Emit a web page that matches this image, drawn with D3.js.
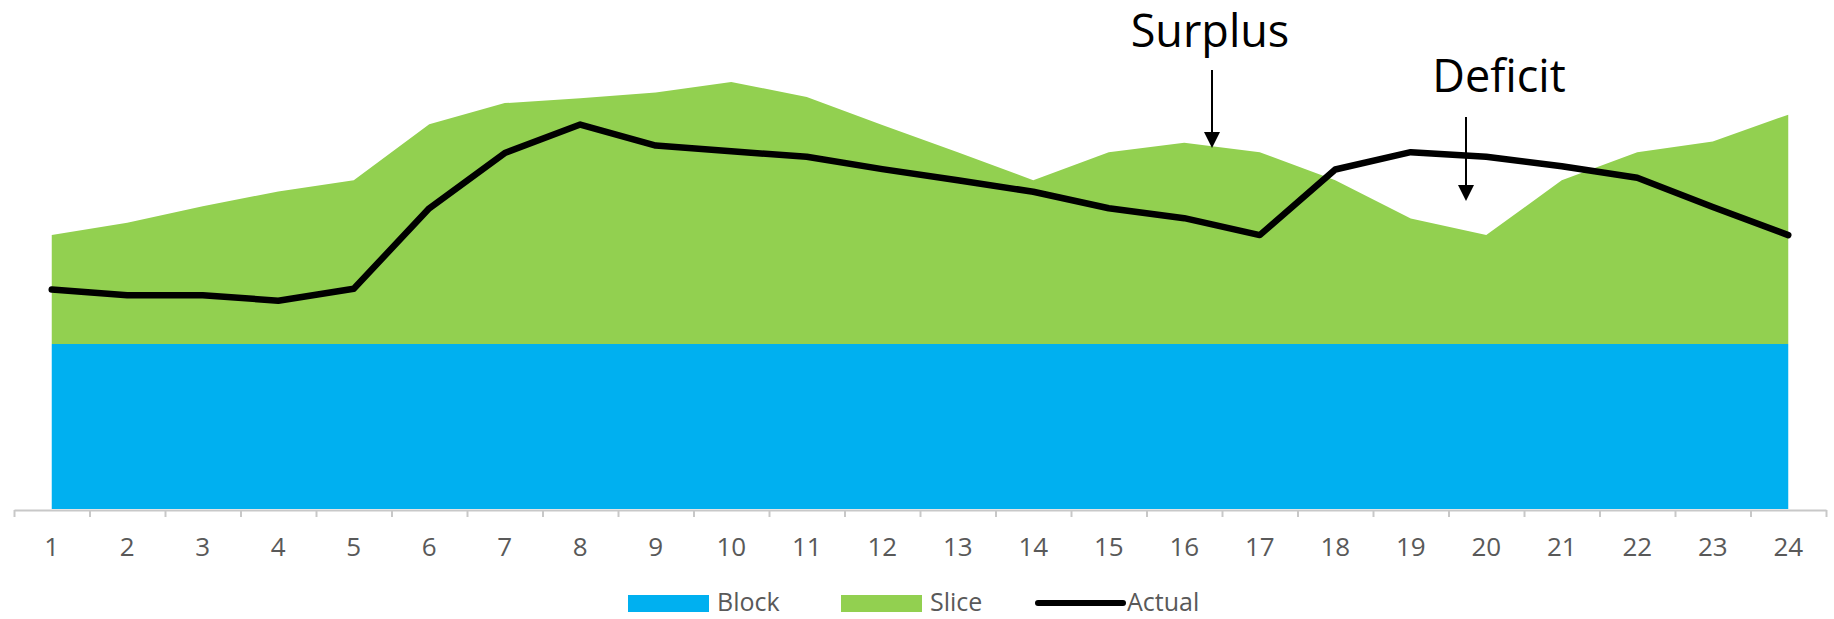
<!DOCTYPE html>
<html>
<head>
<meta charset="utf-8">
<script src="https://cdn.jsdelivr.net/npm/d3@7"></script>
<style>
  html, body { margin: 0; padding: 0; background: #ffffff; }
  svg { display: block; }
  text { font-family: "Open Sans", "Noto Sans", sans-serif; }
</style>
</head>
<body>
<svg id="chart" width="1834" height="619"></svg>
<script>
// Hours of the day
const hours = ["1","2","3","4","5","6","7","8","9","10","11","12","13","14","15","16","17","18","19","20","21","22","23","24"];
// Base load (block) per hour
const block = [40,40,40,40,40,40,40,40,40,40,40,40,40,40,40,40,40,40,40,40,40,40,40,40];
// Variable load (slice) stacked on top of the block
const slice = [26.4,29.4,33.4,37.0,39.7,53.3,58.4,59.6,61.0,63.5,59.9,53.1,46.5,39.7,46.5,48.8,46.5,39.7,30.4,26.4,39.7,46.5,49.1,55.6];
// Actual demand
const actual = [53.2,51.8,51.8,50.5,53.4,72.9,86.3,93.2,88.1,86.7,85.4,82.4,79.7,76.9,72.9,70.5,66.4,82.3,86.5,85.4,83.1,80.3,73.2,66.4];

const legendItems = ["Block", "Slice", "Actual"];
const colors = { Block: "#00B0F0", Slice: "#92D050", Actual: "#000000" };

const svg = d3.select("#chart");

const axisLeft = 14, axisRight = 1826, baseY = 509;

const x = d3.scaleBand().domain(hours).range([axisLeft, axisRight]).padding(0);
const xc = d => x(d) + x.bandwidth() / 2;
const y = d3.scaleLinear().domain([0, 100]).range([baseY, 96.5]);

const rows = hours.map((h, i) => ({ hour: h, Block: block[i], Slice: slice[i] }));
const stack = d3.stack().keys(["Block", "Slice"])(rows);

const area = d3.area()
  .x(d => xc(d.data.hour))
  .y0(d => y(d[0]))
  .y1(d => y(d[1]));

// Stacked areas: green slice drawn over the blue block
svg.append("g").selectAll("path")
  .data(stack)
  .join("path")
  .attr("fill", d => colors[d.key])
  .attr("d", area);

// Actual demand line
const line = d3.line()
  .x((d, i) => xc(hours[i]))
  .y(d => y(d));

svg.append("path")
  .datum(actual)
  .attr("fill", "none")
  .attr("stroke", colors.Actual)
  .attr("stroke-width", 6.5)
  .attr("stroke-linejoin", "round")
  .attr("stroke-linecap", "round")
  .attr("d", line);

// Category axis: tick marks on the band boundaries, labels at band centres
const boundary = d3.scaleLinear().domain([0, hours.length]).range([axisLeft, axisRight]);
const tickAxis = svg.append("g")
  .attr("transform", `translate(0,${baseY + 1})`)
  .call(d3.axisBottom(boundary).tickValues(d3.range(0, hours.length + 1))
    .tickSize(7).tickSizeOuter(0).tickFormat(""));
tickAxis.select(".domain").attr("stroke", "#C8C8C8").attr("stroke-width", 2);
tickAxis.selectAll(".tick line").attr("stroke", "#C8C8C8").attr("stroke-width", 2);

const labelAxis = svg.append("g")
  .attr("transform", `translate(0,${baseY + 1})`)
  .call(d3.axisBottom(x).tickSize(0).tickPadding(28));
labelAxis.select(".domain").remove();
labelAxis.selectAll("text")
  .attr("fill", "#595959")
  .attr("font-size", 26)
  .attr("font-family", "\"Open Sans\", sans-serif");

// Annotations
function annotate(label, tx, ty, ax, ay0, ay1) {
  svg.append("text")
    .attr("x", tx).attr("y", ty)
    .attr("text-anchor", "middle")
    .attr("font-size", 45)
    .attr("fill", "#000")
    .text(label);
  svg.append("line")
    .attr("x1", ax).attr("x2", ax)
    .attr("y1", ay0).attr("y2", ay1 - 14)
    .attr("stroke", "#000").attr("stroke-width", 2);
  svg.append("path")
    .attr("d", `M${ax - 8},${ay1 - 16} L${ax + 8},${ay1 - 16} L${ax},${ay1} Z`)
    .attr("fill", "#000");
}
annotate("Surplus", 1210, 47, 1212, 70, 148);
annotate("Deficit", 1499, 92, 1466, 117, 201);

// Legend
const legend = svg.append("g");
const legendPos = [
  { key: "Block", sx: 628, tx: 717 },
  { key: "Slice", sx: 841, tx: 930 },
  { key: "Actual", sx: 1035, tx: 1127 }
];
legendPos.forEach(p => {
  if (p.key === "Actual") {
    legend.append("line")
      .attr("x1", p.sx + 3).attr("x2", p.sx + 88)
      .attr("y1", 603).attr("y2", 603)
      .attr("stroke", colors.Actual).attr("stroke-width", 6)
      .attr("stroke-linecap", "round");
  } else {
    legend.append("rect")
      .attr("x", p.sx).attr("y", 595)
      .attr("width", 81).attr("height", 17)
      .attr("fill", colors[p.key]);
  }
  legend.append("text")
    .attr("x", p.tx).attr("y", 611)
    .attr("font-size", 25)
    .attr("fill", "#595959")
    .text(p.key);
});
</script>
</body>
</html>
